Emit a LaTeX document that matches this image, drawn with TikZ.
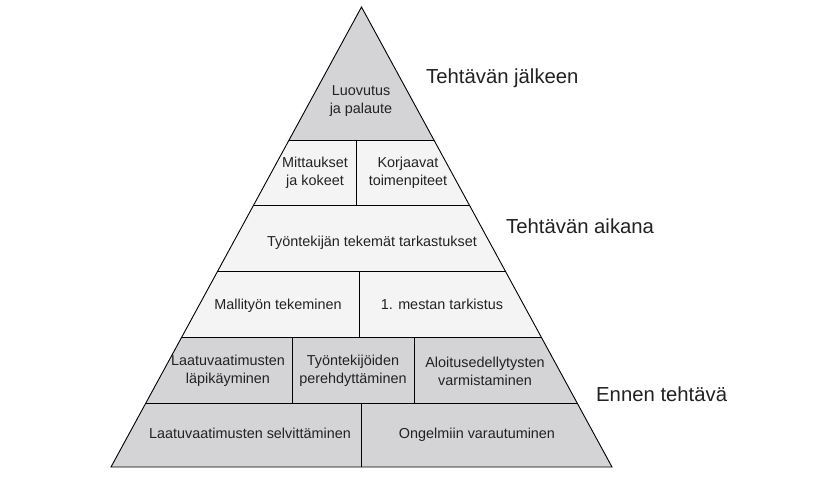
\documentclass[tikz,border=0pt]{standalone}
\usepackage{fontspec}
\setmainfont{Liberation Sans}
\usetikzlibrary{calc}
\definecolor{pgray}{HTML}{D4D4D6}
\definecolor{plight}{HTML}{F4F4F4}
\definecolor{ptext}{HTML}{222222}
\begin{document}
\begin{tikzpicture}[x=1pt,y=-1pt,
  lbl/.style={text=ptext,font=\fontsize{14.4}{18}\selectfont,align=center,inner sep=0pt},
  lbla/.style={lbl,anchor=base},
  side/.style={text=ptext,font=\fontsize{20.3}{24}\selectfont,anchor=base west,inner sep=0pt},
  edge/.style={draw=black,line width=0.9pt}]
\useasboundingbox (0,0) rectangle (835,491);
\coordinate (A) at (361.5,7);
\coordinate (BL) at (111,467);
\coordinate (BR) at (612,467);
\foreach \i/\yy in {1/140,2/205,3/271,4/337,5/403}{
  \coordinate (L\i) at ($(A)!{(\yy-7)/460}!(BL)$);
  \coordinate (R\i) at ($(A)!{(\yy-7)/460}!(BR)$);
}
% fills
\fill[pgray] (A) -- (R1) -- (L1) -- cycle;
\fill[plight] (L1) -- (R1) -- (R4) -- (L4) -- cycle;
\fill[pgray] (L4) -- (R4) -- (BR) -- (BL) -- cycle;
% outline and row lines
\draw[edge,line join=miter] (A) -- (BR) -- (BL) -- cycle;
\foreach \i in {1,...,5}{ \draw[edge] (L\i) -- (R\i); }
% dividers
\coordinate (d1t) at (356,140); \coordinate (d1b) at (356,205);
\coordinate (d2t) at (359,271); \coordinate (d2b) at (359,337);
\coordinate (d3t) at (292,337); \coordinate (d3b) at (292,403);
\coordinate (d4t) at (414,337); \coordinate (d4b) at (414,403);
\coordinate (d5t) at (361,403); \coordinate (d5b) at (361,467);
\foreach \j in {1,...,5}{ \draw[edge] (d\j t) -- (d\j b); }
% labels
\node[lbl] (n1) at (361,101) {Luovutus\\ja palaute};
\node[lbl] (n2) at (315,173) {Mittaukset\\ja kokeet};
\node[lbl] (n3) at (408,173) {Korjaavat\\toimenpiteet};
\node[lbla] (n4) at (372,246) {Työntekijän tekemät tarkastukset};
\node[lbla] (n5) at (278,309) {Mallityön tekeminen};
\node[lbla] (n6) at (442,309) {1. mestan tarkistus};
\node[lbl] (n7) at (228,371) {Laatuvaatimusten\\läpikäyminen};
\node[lbl] (n8) at (353,371) {Työntekijöiden\\perehdyttäminen};
\node[lbl] (n9) at (485,371) {Aloitusedellytysten\\varmistaminen};
\node[lbla] (n10) at (250,438) {Laatuvaatimusten selvittäminen};
\node[lbla] (n11) at (477,438) {Ongelmiin varautuminen};
\node[side] (s1) at (426,83) {Tehtävän jälkeen};
\node[side] (s2) at (506,233) {Tehtävän aikana};
\node[side] (s3) at (596,401) {Ennen tehtävä};
\end{tikzpicture}
\end{document}
